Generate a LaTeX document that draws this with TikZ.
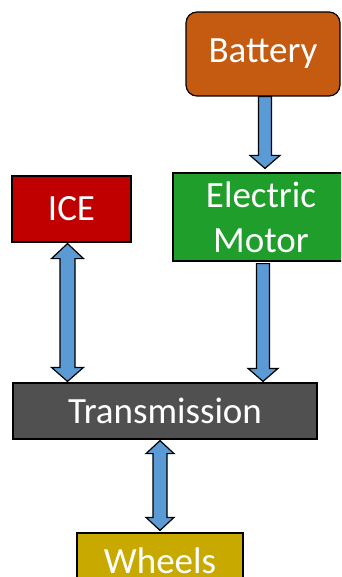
\documentclass[tikz,border=0pt]{standalone}
\usepackage{fontspec}
\setmainfont{Carlito}
\usetikzlibrary{calc}
\definecolor{batc}{HTML}{C55A11}
\definecolor{motc}{HTML}{1F9E2B}
\definecolor{icec}{HTML}{C00000}
\definecolor{trac}{HTML}{505050}
\definecolor{whlc}{HTML}{C8A900}
\definecolor{arrc}{HTML}{5B9BD5}
\tikzset{
  blockbox/.style={draw=black, line width=1.2pt, text=white, align=center, inner sep=0pt,
    font=\fontsize{37}{45}\selectfont},
  blk/.style={draw=black, line width=1.2pt, fill=arrc, line join=miter}
}
\begin{document}
\begin{tikzpicture}[x=1pt,y=1pt]
\useasboundingbox (0,0) rectangle (341,-577);
\clip (0,0) rectangle (341,-577);
\node[blockbox, fill=batc, rounded corners=11pt, minimum width=154pt, minimum height=84pt] (bat) at (263,-54) {Battery};
\node[blockbox, fill=motc, minimum width=176pt, minimum height=88pt] (mot) at (261,-217) {Electric\\Motor};
\node[blockbox, fill=icec, minimum width=119pt, minimum height=66pt] (ice) at (71.5,-209) {ICE};
\node[blockbox, fill=trac, minimum width=304pt, minimum height=56pt] (tra) at (165,-411) {Transmission};
\node[blockbox, fill=whlc, minimum width=166pt, minimum height=56pt] (whl) at (160,-561) {Wheels};
% Battery -> Motor
\draw[blk] let \p1=(bat.south), \p2=(mot.north) in
  (258.5,\y1) -- (271.5,\y1) -- (271.5,\y2+17) -- (280,\y2+17) -- (265,\y2+4)
  -- (250,\y2+17) -- (258.5,\y2+17) -- cycle;
% ICE <-> Transmission
\draw[blk] let \p1=(ice.south), \p2=(tra.north) in
  (67.5,\y1-1) -- (83.5,\y1-16) -- (75,\y1-16) -- (75,\y2+15) -- (83.5,\y2+15) -- (67.5,\y2+1)
  -- (51.5,\y2+15) -- (60,\y2+15) -- (60,\y1-16) -- (51.5,\y1-16) -- cycle;
% Motor -> Transmission
\draw[blk] let \p1=(mot.south), \p2=(tra.north) in
  (256.5,\y1-2) -- (269.5,\y1-2) -- (269.5,\y2+14) -- (278,\y2+14) -- (263,\y2+1)
  -- (248,\y2+14) -- (256.5,\y2+14) -- cycle;
% Transmission <-> Wheels
\draw[blk] let \p1=(tra.south), \p2=(whl.north) in
  (160,\y1-1) -- (174,\y1-14) -- (167,\y1-14) -- (167,\y2+15) -- (174,\y2+15) -- (160,\y2+2)
  -- (146,\y2+15) -- (153,\y2+15) -- (153,\y1-14) -- (146,\y1-14) -- cycle;
\end{tikzpicture}
\end{document}
